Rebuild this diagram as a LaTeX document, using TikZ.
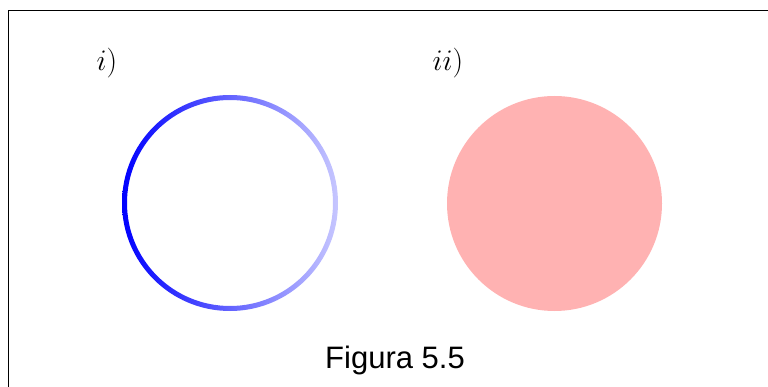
\documentclass[tikz,border=0pt]{standalone}
\usepackage{fontspec}
\newfontfamily\capfont{Liberation Sans}
\begin{document}
\begin{tikzpicture}[x=1pt,y=-1pt,
  lbl/.style={font=\fontsize{24.88}{30}\selectfont, inner sep=0pt, scale=1.2},
  captext/.style={font=\capfont\fontsize{31}{37}\selectfont, inner sep=0pt}]
\useasboundingbox (0,0) rectangle (768,387);
\clip (0,0) rectangle (768,387);
\draw[line width=1.1pt] (8.5,400) -- (8.5,10.5) -- (800,10.5);
\node[lbl] (li) at (107,63) {$i)$};
\node[lbl] (lii) at (448,63) {$ii)$};
\shade[left color=blue, right color=blue!22, even odd rule]
  (230,203) circle (108) (230,203) circle (103);
\fill[red!30] (554.5,203.5) circle (107.5);
\node[captext] (fig) at (395,360) {Figura 5.5};
\end{tikzpicture}
\end{document}
